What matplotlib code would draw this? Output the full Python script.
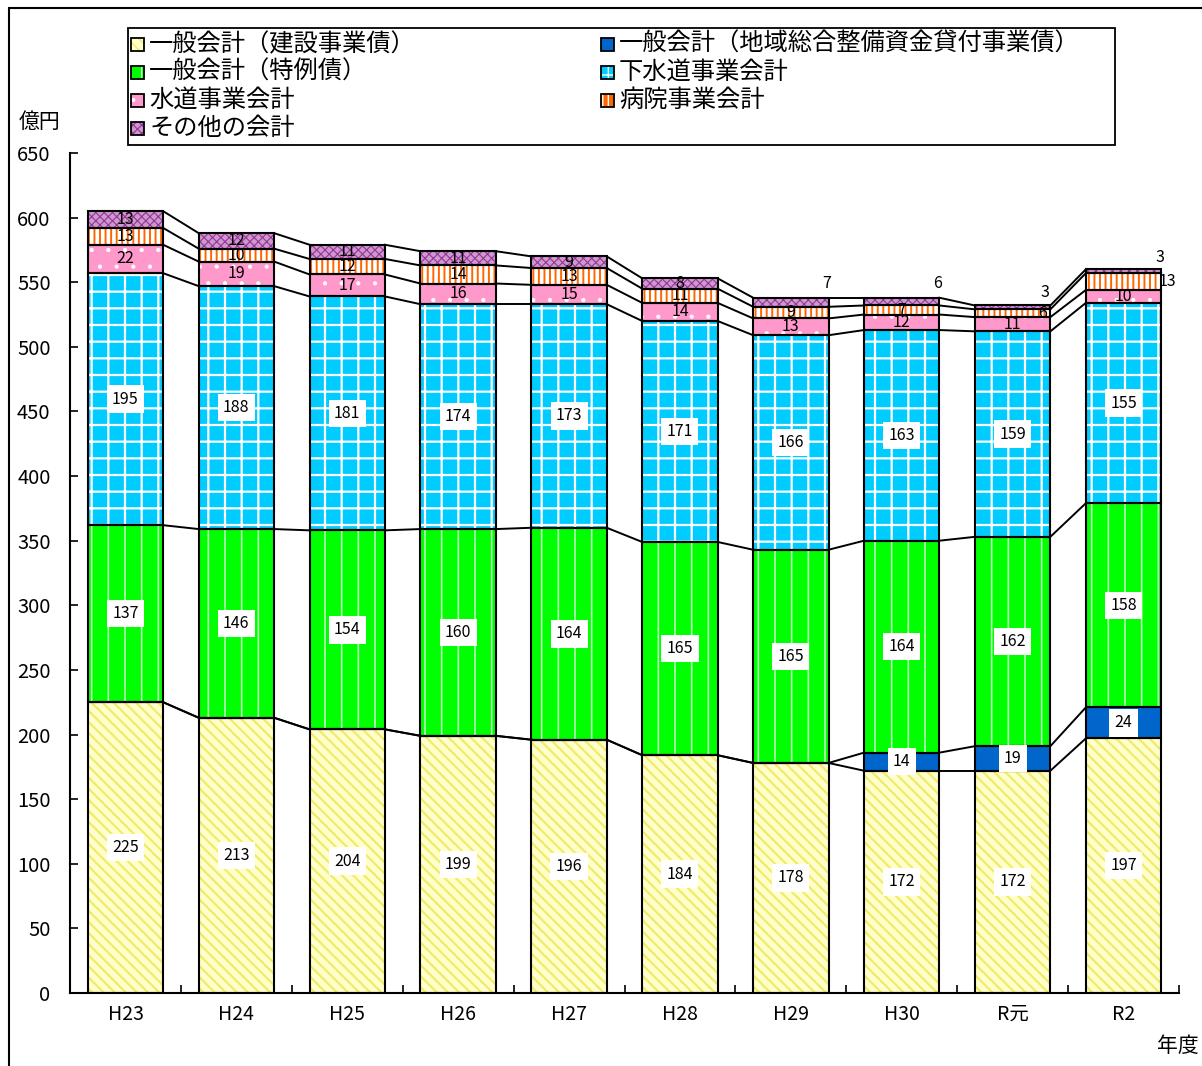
import numpy as np
import matplotlib
matplotlib.use("Agg")
import matplotlib.pyplot as plt
from matplotlib.patches import Rectangle

plt.rcParams["font.family"] = ["Noto Sans CJK JP", "DejaVu Sans"]

# ---- data (億円) ----
years = ["H23", "H24", "H25", "H26", "H27", "H28", "H29", "H30", "R元", "R2"]
construction = [225, 213, 204, 199, 196, 184, 178, 172, 172, 197]
regional = [0, 0, 0, 0, 0, 0, 0, 14, 19, 24]
special = [137, 146, 154, 160, 164, 165, 165, 164, 162, 158]
sewer = [195, 188, 181, 174, 173, 171, 166, 163, 159, 155]
water = [22, 19, 17, 16, 15, 14, 13, 12, 11, 10]
hospital = [13, 10, 12, 14, 13, 11, 9, 7, 6, 13]
other = [13, 12, 11, 11, 9, 8, 7, 6, 3, 3]

names = ["一般会計（建設事業債）", "一般会計（地域総合整備資金貸付事業債）",
         "一般会計（特例債）", "下水道事業会計", "水道事業会計",
         "病院事業会計", "その他の会計"]
series = [construction, regional, special, sewer, water, hospital, other]

# style per series: face, hatch, hatch colour, hatch lw, boxed label
styles = [
    ("#FFFFCC", "\\\\\\", "#F2EA6A", 1.6, True),
    ("#0066CC", "", "#0066CC", 1.0, True),
    ("#00FF00", "|", "#B8FFB8", 1.2, True),
    ("#00CCFF", "+", "#FFFFFF", 1.6, True),
    ("#FF99CC", ".", "#FFFFFF", 0.6, False),
    ("#FF6600", "|||", "#FFFFFF", 2.6, False),
    ("#CC99CC", "xxxx", "#993399", 0.8, False),
]

W, H = 1202, 1066
fig = plt.figure(figsize=(W / 100, H / 100), dpi=100)
ax = fig.add_axes([70 / W, 1 - 993 / H, (1179 - 70) / W, (993 - 153) / H])

x = np.arange(len(years))
bw = 0.68
bottom = np.zeros(len(years))
tops = []
for vals, (fc, hatch, hc, hlw, boxed) in zip(series, styles):
    vals = np.array(vals, dtype=float)
    with plt.rc_context({"hatch.linewidth": hlw}):
        bars = ax.bar(x, vals, bw, bottom=bottom, color=fc, hatch=hatch,
                      edgecolor=hc, linewidth=0, zorder=2)
    for b in bars:
        if hasattr(b, "set_hatch_linewidth"):
            b.set_hatch_linewidth(hlw)
    ax.bar(x, vals, bw, bottom=bottom, facecolor="none", edgecolor="black",
           linewidth=1.5, zorder=3)
    bottom = bottom + vals
    tops.append(bottom.copy())

# series lines between bars
for t in tops:
    for i in range(len(years) - 1):
        ax.plot([i + bw / 2, i + 1 - bw / 2], [t[i], t[i + 1]],
                color="black", lw=1.4, zorder=3)

# value labels
label_shift = {  # (series index, year index): (dx, y relative to bar top)
    (6, 6): (0.32, 11), (6, 7): (0.32, 11), (6, 8): (0.29, 10),
    (6, 9): (0.33, 9.5), (5, 9): (0.40, None), (5, 8): (0.27, None),
}
bottom = np.zeros(len(years))
for si, (vals, st) in enumerate(zip(series, styles)):
    for i, v in enumerate(vals):
        if v == 0:
            continue
        cx, cy = i, bottom[i] + v / 2
        if (si, i) in label_shift:
            dx, dy = label_shift[(si, i)]
            cx = i + dx
            if dy is not None:
                cy = tops[-1][i] + dy
        if st[4]:
            ax.text(cx, cy, str(v), ha="center", va="center", fontsize=11.5,
                    zorder=5, bbox=dict(boxstyle="square,pad=0.33",
                                        fc="white", ec="none"))
        else:
            ax.text(cx, cy, str(v), ha="center", va="center", fontsize=11.5,
                    zorder=5)
    bottom = bottom + np.array(vals)

ax.set_xlim(-0.5, len(years) - 0.5)
ax.set_ylim(0, 650)
ax.set_yticks(np.arange(0, 651, 50))
ax.set_xticks(x)
ax.set_xticklabels(years)
ax.set_xticks(np.arange(-0.5, len(years)), minor=True)
ax.tick_params(axis="x", which="major", length=0, pad=8, labelsize=14)
ax.tick_params(axis="x", which="minor", direction="in", length=6, width=1.2)
ax.tick_params(axis="y", direction="in", length=6, width=1.2, pad=14,
               labelsize=14.5)
for s in ("top", "right"):
    ax.spines[s].set_visible(False)
for s in ("left", "bottom"):
    ax.spines[s].set_linewidth(1.5)

fig.text(19 / W, 1 - 122 / H, "億円", fontsize=15, va="center", ha="left")
fig.text(1199 / W, 1 - 1046 / H, "年度", fontsize=15, va="center", ha="right")

# outer frame
fig.patches.append(Rectangle((9 / W, -0.1), 1.2, 1.1 - 8 / H, fill=False,
                             ec="black", lw=1.5, transform=fig.transFigure))

# legend box (row-major, two columns)
fig.patches.append(Rectangle((128 / W, 1 - 145 / H), (1115 - 128) / W,
                             (145 - 28) / H, fc="white", ec="black", lw=1.3,
                             transform=fig.transFigure, zorder=1))
for k, (name, st) in enumerate(zip(names, styles)):
    col, row = k % 2, k // 2
    lx = 131 if col == 0 else 601
    ly = 44 + row * 28
    with plt.rc_context({"hatch.linewidth": min(st[3], 1.0)}):
        fig.patches.append(Rectangle((lx / W, 1 - (ly + 7) / H), 13 / W,
                                     13 / H, fc=st[0], hatch=st[1],
                                     ec=st[2], lw=0, zorder=2,
                                     transform=fig.transFigure))
    fig.patches.append(Rectangle((lx / W, 1 - (ly + 7) / H), 13 / W, 13 / H,
                                 fill=False, ec="black", lw=1.3, zorder=3,
                                 transform=fig.transFigure))
    fig.text((lx + 18) / W, 1 - ly / H, name, fontsize=17.5, va="center",
             ha="left")

fig.savefig("out.png", dpi=100)
